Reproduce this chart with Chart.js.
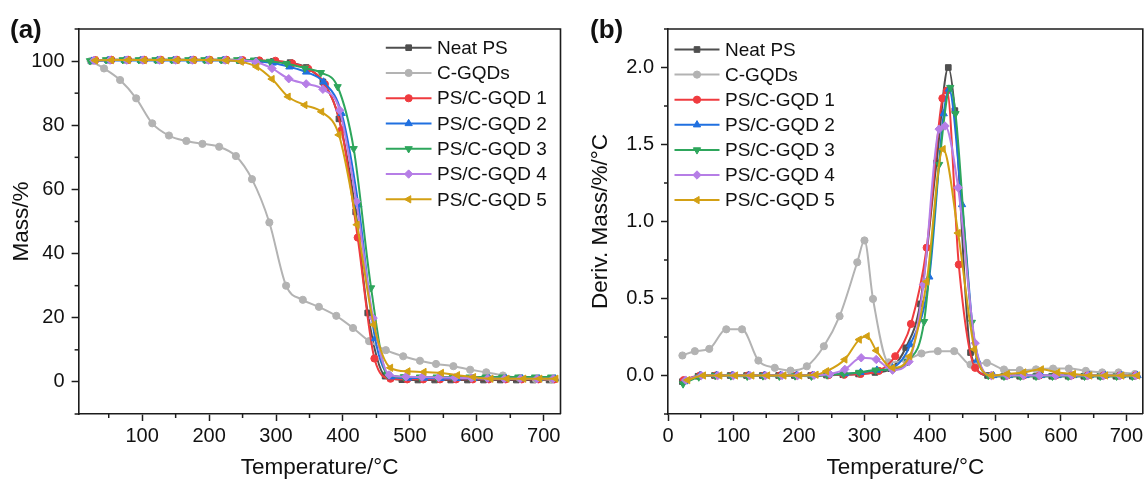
<!DOCTYPE html>
<html>
<head>
<meta charset="utf-8">
<title>TGA and DTG curves of PS/C-GQD composites</title>
<script src="https://cdn.jsdelivr.net/npm/chart.js@4.4.1/dist/chart.umd.min.js"></script>
<style>
  html, body { margin: 0; padding: 0; background: #ffffff; }
  #wrap { position: relative; width: 1148px; height: 480px; overflow: hidden; background: #ffffff; }
  canvas { position: absolute; top: 0; }
  #tga { left: 0; }
  #dtg { left: 574px; }
</style>
</head>
<body>
<div id="wrap">
  <canvas id="tga" width="574" height="480"></canvas>
  <canvas id="dtg" width="574" height="480"></canvas>
</div>
<script>
// ---------- series ----------
const seriesNames = ['Neat PS', 'C-GQDs', 'PS/C-GQD 1', 'PS/C-GQD 2', 'PS/C-GQD 3', 'PS/C-GQD 4', 'PS/C-GQD 5'];

// ---------- (a) mass loss, temperature (°C) / mass (%) ----------
const tgaTempNeat = [27, 51, 76, 100, 125, 149, 174, 198, 223, 247, 272, 296, 321, 345, 370, 394, 419, 437, 463, 488, 512, 537, 561, 586, 610, 635, 659, 684, 708];
const tgaMassNeat = [100.2, 100.3, 100.3, 100.3, 100.3, 100.3, 100.3, 100.3, 100.3, 100.2, 100.1, 99.9, 99.5, 98.0, 93.5, 82.0, 53.0, 21.5, 1.8, 0.7, 0.6, 0.6, 0.6, 0.6, 0.6, 0.6, 0.6, 0.6, 0.6];

const tgaTempCGQD = [23, 43, 67, 91, 115, 140, 166, 190, 215, 240, 264, 290, 315, 340, 364, 390, 415, 439, 464, 490, 515, 539, 565, 590, 614, 639, 664, 688, 713];
const tgaMassCGQD = [100.0, 97.7, 94.1, 88.4, 80.6, 76.8, 75.1, 74.2, 73.3, 70.4, 63.2, 49.7, 30.0, 25.6, 23.4, 20.6, 16.8, 12.7, 9.9, 8.0, 6.6, 5.6, 4.9, 3.8, 3.0, 2.0, 1.2, 0.9, 0.7];

const tgaTemp1 = [30, 54, 79, 103, 128, 152, 177, 201, 226, 250, 275, 299, 324, 348, 373, 398, 422, 447, 471, 496, 520, 545, 569, 594, 618, 643, 667, 692, 716];
const tgaMass1 = [100.3, 100.4, 100.4, 100.4, 100.4, 100.4, 100.4, 100.4, 100.4, 100.3, 100.2, 100.1, 99.3, 97.6, 92.8, 78.5, 45.0, 7.3, 1.0, 0.8, 0.8, 0.8, 0.8, 0.8, 0.8, 0.8, 0.8, 0.8, 0.8];

const tgaTemp2 = [25, 49, 74, 98, 123, 147, 172, 196, 221, 246, 270, 295, 320, 345, 371, 398, 423, 448, 472, 497, 521, 546, 570, 595, 619, 644, 668, 693, 717];
const tgaMass2 = [100.0, 100.2, 100.2, 100.2, 100.2, 100.2, 100.2, 100.2, 100.2, 100.1, 99.9, 99.4, 98.2, 96.6, 93.5, 83.7, 55.2, 13.5, 1.6, 1.2, 1.2, 1.1, 1.1, 1.1, 1.0, 1.0, 1.0, 1.0, 1.0];

const tgaTemp3 = [22, 46, 71, 95, 120, 144, 169, 193, 218, 242, 267, 291, 316, 343, 367, 392, 416, 442, 466, 491, 515, 540, 564, 589, 613, 638, 662, 687, 711];
const tgaMass3 = [100.1, 100.4, 100.4, 100.4, 100.4, 100.4, 100.4, 100.4, 100.4, 100.4, 100.3, 99.9, 99.2, 97.8, 96.4, 92.0, 72.7, 29.3, 2.4, 1.6, 1.5, 1.5, 1.5, 1.5, 1.5, 1.5, 1.5, 1.5, 1.5];

const tgaTemp4 = [28, 52, 77, 101, 126, 150, 175, 199, 224, 248, 270, 294, 319, 345, 370, 395, 420, 445, 469, 494, 518, 543, 567, 592, 616, 641, 665, 690, 714];
const tgaMass4 = [100.2, 100.3, 100.3, 100.3, 100.3, 100.3, 100.3, 100.3, 100.3, 100.2, 99.7, 97.7, 94.5, 92.9, 91.2, 84.7, 56.2, 19.9, 2.2, 1.6, 1.5, 1.4, 1.3, 1.2, 1.1, 1.0, 1.0, 1.0, 1.0];

const tgaTemp5 = [30, 54, 79, 103, 128, 152, 177, 201, 226, 248, 271, 294, 318, 343, 368, 394, 421, 446, 471, 497, 521, 547, 571, 595, 621, 645, 670, 694, 718];
const tgaMass5 = [100.2, 100.3, 100.3, 100.3, 100.3, 100.3, 100.3, 100.3, 100.2, 99.8, 98.2, 94.4, 88.9, 86.3, 84.2, 77.0, 49.0, 17.8, 4.4, 3.3, 3.1, 2.8, 2.1, 1.5, 1.0, 1.0, 1.0, 1.0, 1.0];

// ---------- (b) derivative mass, temperature (°C) / %/°C ----------
const dtgTempNeat = [22, 46, 71, 95, 120, 144, 169, 193, 218, 242, 267, 291, 316, 340, 363, 385, 410, 428, 438, 462, 488, 513, 537, 562, 586, 611, 635, 660, 684, 709];
const dtgRateNeat = [-0.04, -0.005, 0.0, 0.0, 0.0, 0.0, 0.0, 0.0, 0.0, 0.003, 0.005, 0.01, 0.02, 0.045, 0.18, 0.465, 1.38, 2.0, 1.72, 0.149, 0.0, -0.005, -0.005, -0.005, -0.005, -0.005, -0.005, -0.005, -0.005, -0.005];

const dtgTempCGQD = [22, 41, 63, 89, 113, 138, 163, 187, 212, 238, 262, 289, 300, 313, 337, 363, 387, 412, 437, 462, 487, 513, 537, 562, 588, 612, 638, 663, 688, 713];
const dtgRateCGQD = [0.13, 0.158, 0.173, 0.30, 0.30, 0.097, 0.05, 0.032, 0.06, 0.19, 0.385, 0.735, 0.877, 0.497, 0.085, 0.10, 0.143, 0.158, 0.158, 0.071, 0.082, 0.039, 0.035, 0.04, 0.045, 0.045, 0.03, 0.02, 0.02, 0.01];

const dtgTemp1 = [24, 49, 73, 98, 122, 147, 171, 196, 220, 245, 269, 294, 322, 347, 371, 395, 419, 426, 444, 469, 494, 518, 543, 567, 592, 616, 641, 665, 690, 714];
const dtgRate1 = [-0.03, 0.0, 0.0, 0.0, 0.0, 0.0, 0.0, 0.0, 0.0, 0.002, 0.005, 0.01, 0.03, 0.125, 0.335, 0.83, 1.80, 1.85, 0.72, 0.05, 0.0, 0.0, 0.0, 0.0, 0.0, 0.0, 0.0, 0.0, 0.0, 0.0];

const dtgTemp2 = [25, 49, 74, 98, 123, 147, 172, 196, 221, 245, 270, 294, 319, 343, 370, 399, 421, 429, 449, 472, 497, 521, 546, 570, 595, 619, 644, 668, 693, 717];
const dtgRate2 = [-0.04, 0.0, 0.0, 0.0, 0.0, 0.0, 0.0, 0.0, 0.0, 0.005, 0.012, 0.02, 0.035, 0.05, 0.20, 0.64, 1.70, 1.86, 1.11, 0.10, 0.0, 0.0, 0.0, 0.0, 0.0, 0.0, 0.0, 0.0, 0.0, 0.0];

const dtgTemp3 = [23, 47, 72, 96, 121, 145, 170, 194, 219, 243, 268, 292, 317, 342, 366, 391, 414, 431, 439, 464, 489, 513, 538, 562, 587, 611, 636, 660, 685, 709];
const dtgRate3 = [-0.055, -0.01, 0.0, -0.003, -0.005, -0.003, -0.005, -0.003, -0.005, 0.003, 0.01, 0.02, 0.035, 0.04, 0.09, 0.35, 1.37, 1.87, 1.70, 0.345, 0.0, -0.005, -0.005, -0.005, -0.005, -0.005, -0.005, -0.005, -0.005, -0.005];

const dtgTemp4 = [27, 51, 76, 100, 125, 149, 174, 198, 223, 247, 270, 295, 318, 343, 368, 390, 414, 423, 443, 469, 494, 518, 543, 567, 592, 616, 641, 665, 690, 714];
const dtgRate4 = [-0.03, 0.0, 0.0, 0.0, 0.0, 0.0, 0.0, 0.0, 0.002, 0.01, 0.04, 0.115, 0.104, 0.035, 0.09, 0.59, 1.60, 1.62, 1.22, 0.21, 0.0, 0.0, 0.0, 0.0, 0.0, 0.0, 0.0, 0.0, 0.0, 0.0];

const dtgTemp5 = [30, 54, 79, 103, 128, 152, 177, 201, 226, 242, 270, 292, 304, 318, 343, 369, 395, 420, 443, 468, 494, 518, 543, 570, 595, 619, 644, 668, 693, 717];
const dtgRate5 = [-0.03, 0.0, 0.0, 0.0, 0.0, 0.0, 0.0, 0.0, 0.005, 0.028, 0.104, 0.233, 0.255, 0.162, 0.05, 0.125, 0.61, 1.47, 0.925, 0.17, 0.0, 0.01, 0.02, 0.04, 0.02, 0.01, 0.0, 0.0, 0.0, 0.0];

// ---------- styling ----------
const FONT = "'Liberation Sans', Arial, Helvetica, sans-serif";
const AXIS = '#1c1c1c';
const TEXT = '#111111';
const seriesColors = ['#4f4f4f', '#b3b3b3', '#ef3b3f', '#2070e0', '#2ea65c', '#b67ee6', '#d3a014'];
const markerStyles = [
  { style: 'rect', rot: 0, r: 4 },
  { style: 'circle', rot: 0, r: 3.6 },
  { style: 'circle', rot: 0, r: 3.6 },
  { style: 'triangle', rot: 0, r: 4.2 },
  { style: 'triangle', rot: 180, r: 4.2 },
  { style: 'rectRot', rot: 0, r: 4.2 },
  { style: 'triangle', rot: 270, r: 4.2 }
];

function buildDatasets(temps, values) {
  return seriesNames.map((name, i) => ({
    label: name,
    data: temps[i].map((t, k) => ({ x: t, y: values[i][k] })),
    borderColor: seriesColors[i],
    backgroundColor: seriesColors[i],
    borderWidth: 2,
    pointStyle: markerStyles[i].style,
    pointRotation: markerStyles[i].rot,
    pointRadius: markerStyles[i].r,
    pointBorderWidth: 1,
    pointHoverRadius: markerStyles[i].r,
    cubicInterpolationMode: 'monotone',
    order: seriesNames.length - 1 - i
  }));
}

function axis(cfg) {
  return {
    type: 'linear',
    min: cfg.min,
    max: cfg.max,
    afterFit: s => { if (s.isHorizontal()) s.height = cfg.fit; else s.width = cfg.fit; },
    ticks: {
      stepSize: cfg.step,
      includeBounds: false,
      autoSkip: false,
      maxRotation: 0,
      padding: cfg.labelPad,
      color: TEXT,
      font: { family: FONT, size: 20 },
      callback: v => cfg.isMajor(v) ? cfg.fmt(v) : ''
    },
    grid: {
      drawOnChartArea: false,
      drawTicks: true,
      tickLength: 7,
      tickWidth: 1.5,
      tickColor: c => (c.tick && c.tick.label !== '') ? AXIS : 'rgba(0,0,0,0)'
    },
    border: { display: true, color: AXIS, width: 1.6 },
    title: {
      display: true,
      text: cfg.title,
      color: TEXT,
      font: { family: FONT, size: 22.5, lineHeight: 1 },
      padding: cfg.titlePad
    }
  };
}

// frame, minor ticks, panel letter and inset legend
const decor = {
  id: 'decor',
  afterDraw(chart, args, o) {
    const ctx = chart.ctx;
    const a = chart.chartArea;
    ctx.save();
    ctx.strokeStyle = AXIS;
    ctx.lineWidth = 1.5;
    ['x', 'y'].forEach(id => {
      const s = chart.scales[id];
      s.ticks.forEach(t => {
        if (t.label !== '') return;
        const p = s.getPixelForValue(t.value);
        ctx.beginPath();
        if (id === 'x') { ctx.moveTo(p, a.bottom); ctx.lineTo(p, a.bottom + 4); }
        else { ctx.moveTo(a.left, p); ctx.lineTo(a.left - 4, p); }
        ctx.stroke();
      });
    });
    ctx.lineWidth = 1.6;
    ctx.beginPath();
    ctx.moveTo(a.left, a.top);
    ctx.lineTo(a.right, a.top);
    ctx.lineTo(a.right, a.bottom);
    ctx.stroke();

    ctx.fillStyle = TEXT;
    ctx.font = 'bold 26px ' + FONT;
    ctx.textAlign = 'left';
    ctx.textBaseline = 'middle';
    ctx.fillText(o.tag, o.tagX, o.tagY);

    const lg = o.legend;
    const x0 = (lg.anchor === 'right' ? a.right : a.left) + lg.dx;
    chart.data.datasets.forEach((ds, i) => {
      const y = a.top + lg.dy0 + i * lg.dy;
      ctx.strokeStyle = ds.borderColor;
      ctx.lineWidth = ds.borderWidth;
      ctx.beginPath();
      ctx.moveTo(x0, y);
      ctx.lineTo(x0 + lg.len, y);
      ctx.stroke();
      ctx.fillStyle = ds.backgroundColor;
      ctx.lineWidth = 1;
      if (Chart.helpers && Chart.helpers.drawPoint) {
        Chart.helpers.drawPoint(ctx, {
          pointStyle: ds.pointStyle, rotation: ds.pointRotation,
          radius: ds.pointRadius, borderWidth: 1
        }, x0 + lg.len / 2, y);
      } else {
        ctx.beginPath();
        ctx.arc(x0 + lg.len / 2, y, ds.pointRadius, 0, Math.PI * 2);
        ctx.fill();
      }
      ctx.fillStyle = TEXT;
      ctx.font = '19px ' + FONT;
      ctx.textAlign = 'left';
      ctx.textBaseline = 'middle';
      ctx.fillText(ds.label, x0 + lg.textDx, y + 1);
    });
    ctx.restore();
  }
};

function makeChart(id, datasets, xCfg, yCfg, pad, decorOpts) {
  return new Chart(document.getElementById(id), {
    type: 'line',
    data: { datasets },
    options: {
      responsive: false,
      animation: false,
      devicePixelRatio: 1,
      layout: { padding: pad },
      events: [],
      scales: { x: axis(xCfg), y: axis(yCfg) },
      plugins: {
        legend: { display: false },
        tooltip: { enabled: false },
        decor: decorOpts
      }
    },
    plugins: [decor]
  });
}

// (a) TGA
makeChart('tga',
  buildDatasets(
    [tgaTempNeat, tgaTempCGQD, tgaTemp1, tgaTemp2, tgaTemp3, tgaTemp4, tgaTemp5],
    [tgaMassNeat, tgaMassCGQD, tgaMass1, tgaMass2, tgaMass3, tgaMass4, tgaMass5]),
  { min: 5, max: 725, step: 50, fit: 66, labelPad: 3.5, title: 'Temperature/°C', titlePad: { top: 0, bottom: 1 },
    isMajor: v => v % 100 === 0, fmt: v => String(v) },
  { min: -10, max: 110, step: 10, fit: 78.6, labelPad: 7, title: 'Mass/%', titlePad: { top: 11, bottom: 0 },
    isMajor: v => v % 20 === 0 && v >= 0 && v <= 100, fmt: v => String(v) },
  { left: 0, top: 29, right: 13.5, bottom: 0 },
  { tag: '(a)', tagX: 10, tagY: 31,
    legend: { anchor: 'right', dx: -174.7, len: 45.7, textDx: 51.2, dy0: 18.7, dy: 25.27 } }
);

// (b) DTG
makeChart('dtg',
  buildDatasets(
    [dtgTempNeat, dtgTempCGQD, dtgTemp1, dtgTemp2, dtgTemp3, dtgTemp4, dtgTemp5],
    [dtgRateNeat, dtgRateCGQD, dtgRate1, dtgRate2, dtgRate3, dtgRate4, dtgRate5]),
  { min: 0, max: 725, step: 50, fit: 66, labelPad: 3.5, title: 'Temperature/°C', titlePad: { top: 0, bottom: 1 },
    isMajor: v => v % 100 === 0, fmt: v => String(v) },
  { min: -0.25, max: 2.25, step: 0.25, fit: 94, labelPad: 7, title: 'Deriv. Mass/%/°C', titlePad: { top: 16, bottom: 0 },
    isMajor: v => Math.abs(v * 2 - Math.round(v * 2)) < 1e-6 && v > -0.01 && v < 2.01, fmt: v => v.toFixed(1) },
  { left: 0, top: 29, right: 2, bottom: 0 },
  { tag: '(b)', tagX: 16, tagY: 31,
    legend: { anchor: 'left', dx: 6.5, len: 45, textDx: 50.5, dy0: 20.5, dy: 25.1 } }
);
</script>
</body>
</html>
